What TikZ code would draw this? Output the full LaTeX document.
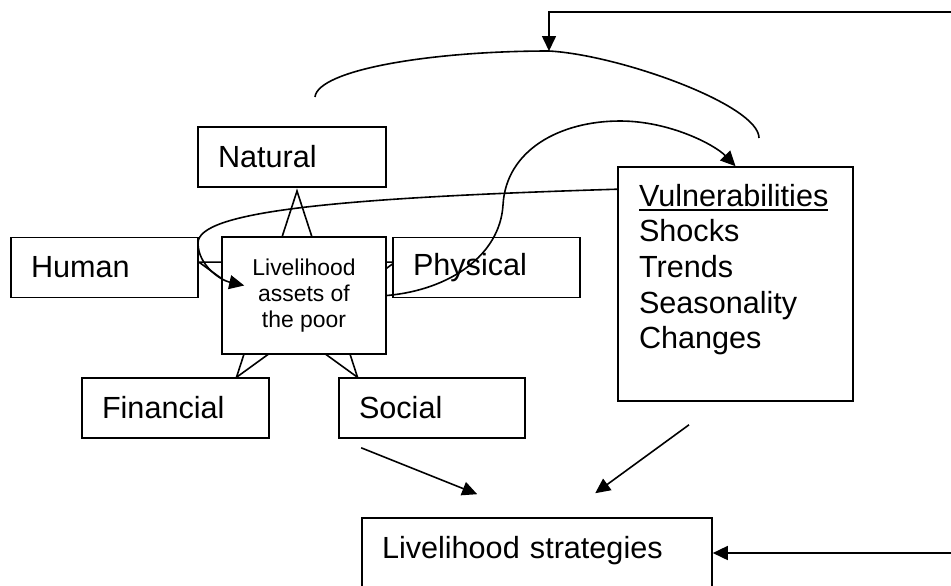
\documentclass[tikz,border=0pt]{standalone}
\usepackage{fontspec}
\setmainfont{Liberation Sans}
\usetikzlibrary{arrows.meta,calc}
\newcommand\ulbar[1]{\leavevmode\vtop{\hbox{#1}\kern1.3pt\hrule height .9pt}}
\tikzset{
	capital/.style={draw,fill=white,inner xsep=10pt,inner ysep=0pt,text width=#1,align=left,
		minimum height=30pt,font=\fontsize{15.3}{18}\selectfont},
	feed/.style={-{Triangle[length=7.5pt,width=7pt]}}
}
\begin{document}
\begin{tikzpicture}[x=.5pt,y=-.5pt,line width=.8pt]
	\useasboundingbox (0,0) rectangle (951,585);
	\def\R{103}
	\def\rr{39.4}
	\coordinate (hub) at (297,294);
	% star behind the assets box
	\draw (hub) ++(-90:\R)
	\foreach \k in {0,...,4}{ -- ($(hub)+({-54+72*\k}:\rr)$) -- ($(hub)+({-18+72*\k}:\R)$)} -- cycle;
	% the five capitals
	\node[capital=74pt] (natural) at (292,157) {Natural};
	\node[capital=73.5pt] (human) at (104.5,267.5) {Human};
	\node[capital=73.5pt] (physical) at (486.5,267.5) {Physical};
	\node[capital=73.5pt] (financial) at (175.5,408) {Financial};
	\node[capital=73pt] (social) at (432,408) {Social};
	\node[draw,fill=white,minimum width=82pt,minimum height=58.5pt,align=center,
		font=\fontsize{11.45}{13}\selectfont] (assets) at (304,295.5) {Livelihood\\assets of\\the poor};
	\node[draw,fill=white,inner sep=0pt] (vuln) at (735.5,284)
	{\parbox[c][117pt][t]{117.5pt}{\leftskip=10.5pt\fontsize{15.3}{17.85}\selectfont
			\vspace*{8.5pt}\ulbar{Vulnerabilities}\\Shocks\\Trends\\Seasonality\\Changes}};
	\node[capital=155pt,minimum height=35pt,text depth=6pt] (strat) at (537,553) {Livelihood strategies};
	% arcs and arrows
	\coordinate (arcL) at (315,97);
	\coordinate (arcTop) at (549,51);
	\coordinate (arcR) at (759,138);
	\coordinate (corner) at (990,12);
	\draw (arcL) .. controls (318,70) and (430,51) .. (arcTop) .. controls (620,55) and (759,105) .. (arcR);
	\draw[{Triangle[length=7.5pt,width=7pt]}-{Triangle[length=7.5pt,width=7pt]}] (strat.east) -| (corner) -| (arcTop);
	\draw[feed] ($(vuln.north west)+(0,23)$) .. controls (330,198) and (198,212) .. (198,243)
	.. controls (198,265) and (220,280) .. ($(assets.west)+(23,-10)$);
	\draw[feed] (assets.east) .. controls (450,290) and (500,255) .. (503,205)
	.. controls (506,150) and (560,121) .. (620,121) .. controls (670,121) and (715,145) .. (vuln.north);
	\draw[feed] ($(social.south west)+(23,9)$) -- ($(strat.north west)+(116,-23)$);
	\draw[feed] ($(vuln.south)+(-46.5,23)$) -- ($(strat.north west)+(234,-24)$);
\end{tikzpicture}
\end{document}
